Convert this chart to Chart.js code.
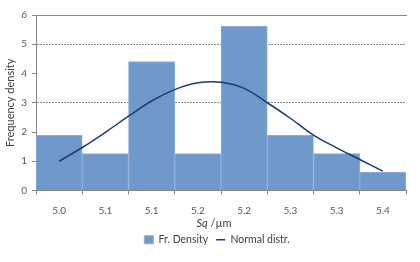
<!DOCTYPE html>
<html>
<head>
<meta charset="utf-8">
<script src="https://cdn.jsdelivr.net/npm/chart.js@4.4.1/dist/chart.umd.min.js"></script>
<style>
  html, body { margin: 0; padding: 0; background: #fff; }
</style>
</head>
<body>
<canvas id="chart" width="420" height="262"></canvas>
<script>
// histogram bins (labels rounded like the original) and frequency density
const bins = ["5.0", "5.1", "5.1", "5.2", "5.2", "5.3", "5.3", "5.4"];
const density = [1.89, 1.26, 4.41, 1.26, 5.62, 1.89, 1.26, 0.63];
const curveX = [0, 0.5, 1, 1.5, 2, 2.5, 3, 3.5, 4, 4.5, 5, 5.5, 6, 6.5, 7];
const curveY = [1.0, 1.47, 1.99, 2.54, 3.06, 3.45, 3.68, 3.7, 3.49, 3.0, 2.47, 1.89, 1.46, 1.06, 0.66];
const gridAt = [3, 5];

const FONT = "Lato, 'Liberation Sans', sans-serif";
const AXIS = "#868686";

// x title with italic "Sq"
const xTitle = {
  id: "xTitle",
  afterLayout(chart) {
    // legend sits a bit right of centre in the original
    chart.legend.left += 28;
  },
  afterDraw(chart) {
    const { ctx, chartArea } = chart;
    const a = "Sq", b = " /µm";
    ctx.save();
    ctx.fillStyle = "#404040";
    ctx.textBaseline = "middle";
    ctx.font = "italic 11px " + FONT;
    const wa = ctx.measureText(a).width;
    ctx.font = "11px " + FONT;
    const wb = ctx.measureText(b).width;
    let x = 214 - (wa + wb) / 2;
    const y = chartArea.bottom + 33;
    ctx.font = "italic 11px " + FONT;
    ctx.fillText(a, x, y);
    ctx.font = "11px " + FONT;
    ctx.fillText(b, x + wa, y);
    ctx.restore();
  }
};

new Chart(document.getElementById("chart"), {
  type: "bar",
  data: {
    labels: bins,
    datasets: [
      {
        type: "bar",
        label: "Fr. Density",
        data: density,
        backgroundColor: "#7099CB",
        borderColor: "#8FB0DA",
        borderWidth: 1,
        barPercentage: 1,
        categoryPercentage: 1,
        grouped: false,
        pointStyle: "rect",
        xAxisID: "x",
        order: 2
      },
      {
        type: "line",
        label: "Normal distr.",
        data: curveX.map((x, i) => ({ x: x, y: curveY[i] })),
        borderColor: "#1B3A73",
        backgroundColor: "#1B3A73",
        borderWidth: 1.5,
        pointRadius: 0,
        pointStyle: "line",
        tension: 0.4,
        fill: false,
        xAxisID: "x2",
        order: 1
      }
    ]
  },
  options: {
    responsive: false,
    animation: false,
    devicePixelRatio: 1,
    layout: { padding: { left: 0, right: 14, top: 15, bottom: 7 } },
    plugins: {
      tooltip: { enabled: false },
      legend: {
        position: "bottom",
        labels: {
          usePointStyle: true,
          pointStyleWidth: 9,
          boxHeight: 8,
          padding: 8,
          color: "#404040",
          font: { family: FONT, size: 10.5 },
          sort: (a, b) => a.datasetIndex - b.datasetIndex
        }
      }
    },
    scales: {
      x: {
        type: "category",
        offset: true,
        grid: { offset: true, drawOnChartArea: false, color: AXIS, tickColor: AXIS, tickLength: 4 },
        border: { color: AXIS },
        ticks: { color: "#595959", font: { family: FONT, size: 10 }, padding: 10, maxRotation: 0, autoSkip: false },
        afterFit(s) { s.height = 36; }
      },
      x2: {
        type: "linear",
        position: "top",
        offset: false,
        min: -0.5,
        max: 7.5,
        grid: { display: false, drawTicks: false, offset: false },
        border: { display: true, color: AXIS },
        ticks: { display: false },
        afterFit(s) { s.height = 0; }
      },
      y: {
        min: 0,
        max: 6,
        ticks: { stepSize: 1, color: "#595959", font: { family: FONT, size: 10 }, padding: 5 },
        grid: {
          color: (c) => gridAt.includes(c.tick.value) ? "#8a8a8a" : "rgba(0,0,0,0)",
          tickColor: AXIS,
          tickLength: 4
        },
        border: { color: AXIS, dash: [2, 1] },
        title: {
          display: true,
          text: "Frequency density",
          color: "#404040",
          font: { family: FONT, size: 11 },
          padding: { top: 4, bottom: 0 }
        },
        afterFit(s) { s.width = 36; }
      }
    }
  },
  plugins: [xTitle]
});
</script>
</body>
</html>
